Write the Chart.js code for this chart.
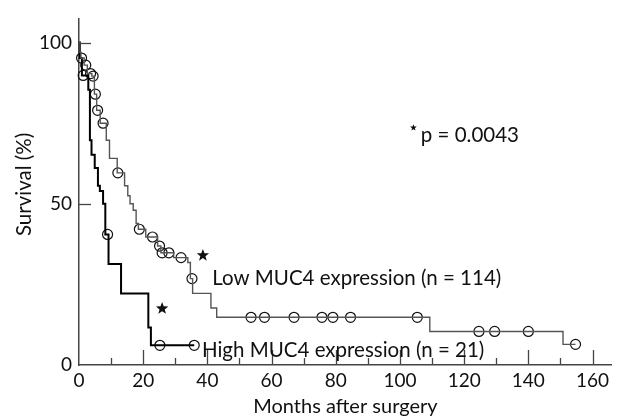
<!DOCTYPE html>
<html>
<head>
<meta charset="utf-8">
<script src="https://cdn.jsdelivr.net/npm/chart.js@4.4.0/dist/chart.umd.min.js"></script>
<style>
  body { margin: 0; background: #fff; }
  #wrap { width: 618px; height: 420px; }
</style>
</head>
<body>
<div id="wrap"><canvas id="kmChart" width="618" height="420"></canvas></div>
<script>
// Courbe "Low MUC4" : temps de chaque descente (mois) et survie après la descente (%)
const lowTimes = [0, 0.3, 0.6, 1.6, 2.6, 4.0, 4.8, 5.5, 6.6, 8.5, 9.5, 11.9, 14.2, 15.2, 15.9, 16.9, 17.8, 18.5, 20.8, 24.5, 25.5, 29.5, 33.9, 34.7, 35.4, 41.1, 42.9, 109.3, 150.8, 154.7];
const lowSurv  = [100, 97, 95.2, 93, 90.4, 89.6, 84, 79, 75, 69.7, 64.1, 59.6, 55.6, 52.5, 50, 48, 43.9, 42.1, 39.7, 36.9, 34.8, 33.3, 31.8, 26.8, 22.2, 17.7, 14.8, 10.4, 6.4, 6.4];
// Observations censurées (cercles)
const lowCensorTimes = [0.8, 2.1, 3.6, 4.4, 5.1, 5.8, 7.5, 12.1, 18.8, 22.9, 25.1, 25.9, 28, 31.8, 35.2, 53.6, 57.8, 67, 75.7, 79.1, 84.6, 105.4, 124.6, 129.5, 140, 154.7];
const lowCensorSurv  = [95.2, 93, 90.4, 89.6, 84, 79, 75, 59.6, 42.1, 39.7, 36.9, 34.8, 34.8, 33.3, 26.8, 14.8, 14.8, 14.8, 14.8, 14.8, 14.8, 14.8, 10.4, 10.4, 10.4, 6.4];

// Courbe "High MUC4"
const highTimes = [0, 0.3, 0.9, 2.9, 3.4, 3.9, 4.9, 5.9, 6.5, 7.5, 8.2, 9.2, 13.1, 21.6, 22.4, 35.9];
const highSurv  = [100, 95.2, 89.8, 85.4, 69.7, 65.2, 61.1, 55.6, 54, 50, 40.5, 31.3, 22.2, 11.6, 6.1, 6.1];
const highCensorTimes = [1.3, 8.9, 25.2, 35.9];
const highCensorSurv  = [89.8, 40.5, 6.1, 6.1];

// Etoiles et textes
const starPoints = [[38.6, 34], [25.9, 17.5]];
const pLabel = 'p = 0.0043';
const lowLabel = 'Low MUC4 expression (n = 114)';
const highLabel = 'High MUC4 expression (n = 21)';
const yTitle = 'Survival (%)';

const xTicksMajor = [0, 20, 40, 60, 80, 100, 120, 140, 160];
const yTicksMajor = [0, 50, 100];

const FONT = 'Lato, "Noto Sans", sans-serif';

function toXY(xs, ys) {
    return xs.map((x, i) => ({ x: x, y: ys[i] }));
}

function drawStar(ctx, cx, cy, r) {
    ctx.beginPath();
    for (let i = 0; i < 10; i++) {
        const a = -Math.PI / 2 + i * Math.PI / 5;
        const rr = i % 2 === 0 ? r : r * 0.42;
        ctx.lineTo(cx + rr * Math.cos(a), cy + rr * Math.sin(a));
    }
    ctx.closePath();
    ctx.fill();
}

// Graduations intérieures, étoiles et textes
const decorPlugin = {
    id: 'decor',
    afterDraw(chart) {
        const ctx = chart.ctx;
        const xs = chart.scales.x;
        const ys = chart.scales.y;
        const bottom = ys.getPixelForValue(0);
        const left = xs.getPixelForValue(0);
        ctx.save();
        ctx.strokeStyle = '#444';
        ctx.lineWidth = 1.3;
        for (let m = 10; m <= 160; m += 10) {
            const px = Math.round(xs.getPixelForValue(m)) + 0.5;
            const len = m % 20 === 0 ? 15 : 7;
            ctx.beginPath();
            ctx.moveTo(px, bottom);
            ctx.lineTo(px, bottom - len);
            ctx.stroke();
        }
        [50, 100].forEach(v => {
            const py = Math.round(ys.getPixelForValue(v)) + 0.5;
            ctx.beginPath();
            ctx.moveTo(left, py);
            ctx.lineTo(left + 12, py);
            ctx.stroke();
        });

        ctx.fillStyle = '#111';
        starPoints.forEach(p => {
            drawStar(ctx, xs.getPixelForValue(p[0]), ys.getPixelForValue(p[1]), 6.5);
        });
        drawStar(ctx, xs.getPixelForValue(104.2), ys.getPixelForValue(73.6), 3.5);

        ctx.font = '20.5px ' + FONT;
        ctx.textBaseline = 'middle';
        ctx.textAlign = 'left';
        ctx.fillText(pLabel, xs.getPixelForValue(106.5), ys.getPixelForValue(71.2));
        ctx.fillText(lowLabel, xs.getPixelForValue(41.5), ys.getPixelForValue(26.8));
        ctx.fillText(highLabel, xs.getPixelForValue(38.3), ys.getPixelForValue(4.6));

        // titre de l'axe Y
        ctx.translate(24, ys.getPixelForValue(56));
        ctx.rotate(-Math.PI / 2);
        ctx.textAlign = 'center';
        ctx.font = '20.5px ' + FONT;
        ctx.fillText(yTitle, 0, 0);
        ctx.restore();
    }
};

const ctx = document.getElementById('kmChart');
new Chart(ctx, {
    type: 'line',
    data: {
        datasets: [
            {
                label: 'Low MUC4',
                data: toXY(lowTimes, lowSurv),
                stepped: 'before',
                borderColor: '#555',
                borderWidth: 1.4,
                pointRadius: 0,
                fill: false
            },
            {
                label: 'High MUC4',
                data: toXY(highTimes, highSurv),
                stepped: 'before',
                borderColor: '#000',
                borderWidth: 2,
                pointRadius: 0,
                fill: false
            },
            {
                label: 'Low censored',
                data: toXY(lowCensorTimes, lowCensorSurv),
                showLine: false,
                pointStyle: 'circle',
                pointRadius: 5,
                pointBorderWidth: 1.2,
                pointBorderColor: '#111',
                pointBackgroundColor: 'rgba(0,0,0,0)'
            },
            {
                label: 'High censored',
                data: toXY(highCensorTimes, highCensorSurv),
                showLine: false,
                pointStyle: 'circle',
                pointRadius: 5,
                pointBorderWidth: 1.2,
                pointBorderColor: '#111',
                pointBackgroundColor: 'rgba(0,0,0,0)'
            }
        ]
    },
    options: {
        responsive: false,
        animation: false,
        clip: false,
        layout: { padding: { top: 10, right: 0, left: 0, bottom: 0 } },
        plugins: {
            legend: { display: false },
            tooltip: { enabled: false }
        },
        scales: {
            x: {
                type: 'linear',
                min: 0,
                max: 166,
                afterFit: function(scale) { scale.height = 55; },
                afterBuildTicks: function(scale) {
                    scale.ticks = xTicksMajor.map(v => ({ value: v }));
                },
                ticks: {
                    font: { family: FONT, size: 19 },
                    color: '#111',
                    padding: 4,
                    maxRotation: 0
                },
                grid: { display: false, drawTicks: false },
                border: { display: true, color: '#444', width: 1.5 },
                title: {
                    display: true,
                    text: 'Months after surgery',
                    font: { family: FONT, size: 20 },
                    color: '#111',
                    padding: { top: 0, bottom: 1 }
                }
            },
            y: {
                type: 'linear',
                min: 0,
                max: 107.5,
                afterFit: function(scale) { scale.width = 79; },
                afterBuildTicks: function(scale) {
                    scale.ticks = yTicksMajor.map(v => ({ value: v }));
                },
                ticks: {
                    font: { family: FONT, size: 19 },
                    color: '#111',
                    padding: 7
                },
                grid: { display: false, drawTicks: false },
                border: { display: true, color: '#444', width: 1.5 }
            }
        }
    },
    plugins: [decorPlugin]
});
</script>
</body>
</html>
